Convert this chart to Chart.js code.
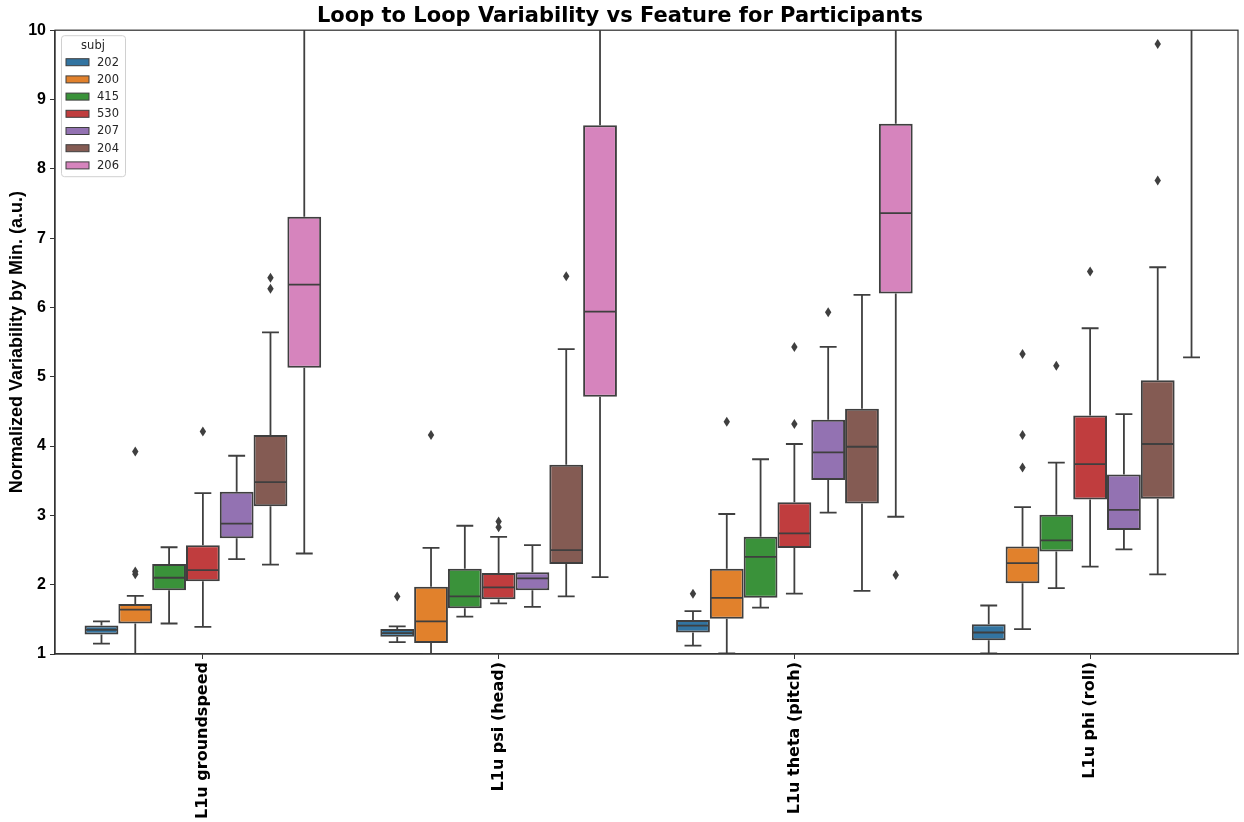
<!DOCTYPE html>
<html>
<head>
<meta charset="utf-8">
<script src="https://cdn.jsdelivr.net/npm/chart.js@4"></script>
<style>
  html, body { margin: 0; padding: 0; background: #fff; }
</style>
</head>
<body>
<canvas id="chart" width="1244" height="822"></canvas>
<script>
// features on the x axis, one box per subject in each
const features = ["L1u groundspeed", "L1u psi (head)", "L1u theta (pitch)", "L1u phi (roll)"];
const subjects = ["202", "200", "415", "530", "207", "204", "206"];
const colors = ["#3274a1", "#e1812c", "#3a923a", "#c03d3e", "#9372b2", "#845b53", "#d684bd"];

// rows = subjects, columns = features
const whiskLo = [
  [1.15, 1.17, 1.12, 1.01],
  [1.00, 1.00, 1.01, 1.36],
  [1.44, 1.54, 1.67, 1.95],
  [1.39, 1.73, 1.87, 2.26],
  [2.37, 1.68, 3.04, 2.51],
  [2.29, 1.83, 1.91, 2.15],
  [2.45, 2.11, 2.98, 5.28],
];
const q1 = [
  [1.28, 1.25, 1.31, 1.20],
  [1.44, 1.16, 1.51, 2.02],
  [1.92, 1.66, 1.81, 2.48],
  [2.05, 1.79, 2.53, 3.23],
  [2.67, 1.92, 3.51, 2.79],
  [3.13, 2.30, 3.17, 3.24],
  [5.13, 4.71, 6.20, 11.5],
];
const medians = [
  [1.35, 1.30, 1.41, 1.31],
  [1.64, 1.47, 1.81, 2.31],
  [2.10, 1.83, 2.40, 2.64],
  [2.21, 1.96, 2.74, 3.74],
  [2.88, 2.09, 3.91, 3.08],
  [3.48, 2.50, 3.99, 4.03],
  [6.33, 5.94, 7.36, 13.0],
];
const q3 = [
  [1.41, 1.36, 1.49, 1.43],
  [1.72, 1.97, 2.23, 2.55],
  [2.30, 2.23, 2.69, 3.01],
  [2.57, 2.17, 3.19, 4.44],
  [3.34, 2.18, 4.38, 3.59],
  [4.16, 3.73, 4.54, 4.95],
  [7.31, 8.63, 8.65, 15.0],
];
const whiskHi = [
  [1.47, 1.40, 1.62, 1.70],
  [1.84, 2.53, 3.02, 3.12],
  [2.54, 2.85, 3.81, 3.76],
  [3.32, 2.69, 4.03, 5.70],
  [3.86, 2.57, 5.43, 4.46],
  [5.64, 5.40, 6.18, 6.58],
  [12.5, 13.0, 12.0, 20.0],
];
const outliers = [
  [[], [1.83], [1.87], []],
  [[2.15, 2.19, 3.92], [4.16], [4.35], [3.69, 4.16, 5.33]],
  [[], [], [], [5.16]],
  [[4.21], [2.83, 2.91], [4.32, 5.43], [6.52]],
  [[], [], [5.93], []],
  [[6.27, 6.43], [6.45], [], [7.83, 9.80]],
  [[], [], [2.14], []],
];

const edge = "#3f3f3f";

const datasets = subjects.map((s, i) => ({
  label: s,
  data: q1[i].map((v, j) => [v, q3[i][j]]),
  backgroundColor: colors[i],
  borderColor: edge,
  borderWidth: 2,
  borderSkipped: false,
  categoryPercentage: 0.8,
  barPercentage: 1.0,
}));

// whiskers, medians and fliers on top of the floating bars
const boxPlugin = {
  id: "boxParts",
  afterDatasetsDraw(chart) {
    const { ctx, chartArea: a, scales } = chart;
    const y = scales.y;
    ctx.save();
    ctx.beginPath();
    ctx.rect(a.left, a.top, a.right - a.left, a.bottom - a.top);
    ctx.clip();
    ctx.strokeStyle = edge;
    ctx.fillStyle = edge;
    ctx.lineWidth = 1.8;
    chart.data.datasets.forEach((ds, si) => {
      const meta = chart.getDatasetMeta(si);
      meta.data.forEach((bar, fi) => {
        const x = bar.x;
        const w = bar.width;
        const yq1 = y.getPixelForValue(q1[si][fi]);
        const yq3 = y.getPixelForValue(q3[si][fi]);
        const ylo = y.getPixelForValue(whiskLo[si][fi]);
        const yhi = y.getPixelForValue(whiskHi[si][fi]);
        const ymed = y.getPixelForValue(medians[si][fi]);
        ctx.beginPath();
        ctx.moveTo(x, yq3);
        ctx.lineTo(x, yhi);
        ctx.moveTo(x - w / 4, yhi);
        ctx.lineTo(x + w / 4, yhi);
        ctx.moveTo(x, yq1);
        ctx.lineTo(x, ylo);
        ctx.moveTo(x - w / 4, ylo);
        ctx.lineTo(x + w / 4, ylo);
        ctx.moveTo(x - w / 2 + 1, ymed);
        ctx.lineTo(x + w / 2 - 1, ymed);
        ctx.stroke();
        for (const v of outliers[si][fi]) {
          const py = y.getPixelForValue(v);
          ctx.beginPath();
          ctx.moveTo(x, py - 5);
          ctx.lineTo(x + 3.2, py);
          ctx.lineTo(x, py + 5);
          ctx.lineTo(x - 3.2, py);
          ctx.closePath();
          ctx.fill();
        }
      });
    });
    ctx.restore();

    // frame (all four spines)
    ctx.save();
    ctx.strokeStyle = "#333";
    ctx.lineWidth = 1.25;
    ctx.strokeRect(a.left, a.top, a.right - a.left, a.bottom - a.top);
    ctx.restore();
  },
  afterDraw(chart) {
    // legend inside the plot, upper left
    const { ctx, chartArea: a } = chart;
    const lx = a.left + 6, ly = a.top + 5, lw = 64, lh = 141;
    ctx.save();
    ctx.fillStyle = "rgba(255,255,255,0.8)";
    ctx.strokeStyle = "#d0d0d0";
    ctx.lineWidth = 1;
    ctx.beginPath();
    ctx.roundRect(lx + 0.5, ly + 0.5, lw, lh, 3);
    ctx.fill();
    ctx.stroke();
    ctx.fillStyle = "#262626";
    ctx.font = "11.5px 'DejaVu Sans'";
    ctx.textBaseline = "middle";
    ctx.textAlign = "center";
    ctx.fillText("subj", lx + lw / 2, ly + 11);
    ctx.textAlign = "left";
    chart.data.datasets.forEach((ds, i) => {
      const cy = ly + 27 + i * 17.2;
      ctx.fillStyle = ds.backgroundColor;
      ctx.fillRect(lx + 5, cy - 3.5, 23, 7);
      ctx.strokeStyle = edge;
      ctx.strokeRect(lx + 5, cy - 3.5, 23, 7);
      ctx.fillStyle = "#262626";
      ctx.fillText(ds.label, lx + 36, cy + 0.5);
    });
    ctx.restore();
  },
};

new Chart(document.getElementById("chart"), {
  type: "bar",
  data: { labels: features, datasets: datasets },
  options: {
    responsive: false,
    animation: false,
    layout: { padding: { left: 2, right: 6, top: 0, bottom: 0 } },
    plugins: {
      legend: { display: false },
      tooltip: { enabled: false },
      title: {
        display: true,
        text: "Loop to Loop Variability vs Feature for Participants",
        color: "#000",
        font: { family: "'DejaVu Sans'", size: 21, weight: "bold" },
        padding: { top: 4, bottom: 1 },
      },
    },
    scales: {
      x: {
        grid: { drawOnChartArea: false, offset: false, tickLength: 5, color: "#333" },
        border: { display: true, color: "#333", width: 1.25 },
        ticks: {
          minRotation: 90,
          maxRotation: 90,
          color: "#000",
          padding: 3,
          font: { family: "'DejaVu Sans'", size: 16, weight: "bold" },
        },
        afterFit(scale) {
          scale.height = 168;
        },
      },
      y: {
        min: 1,
        max: 10,
        grid: { drawOnChartArea: false, tickLength: 5, color: "#333" },
        border: { display: true, color: "#333", width: 1.25 },
        ticks: {
          stepSize: 1,
          color: "#000",
          padding: 4,
          font: { family: "'Liberation Sans'", size: 16, weight: "bold" },
        },
        title: {
          display: true,
          text: "Normalized Variability by Min. (a.u.)",
          color: "#000",
          font: { family: "'Liberation Sans'", size: 18, weight: "bold" },
          padding: { top: 4, bottom: 4 },
        },
        afterFit(scale) {
          scale.width = 53;
        },
      },
    },
  },
  plugins: [boxPlugin],
});
</script>
</body>
</html>
